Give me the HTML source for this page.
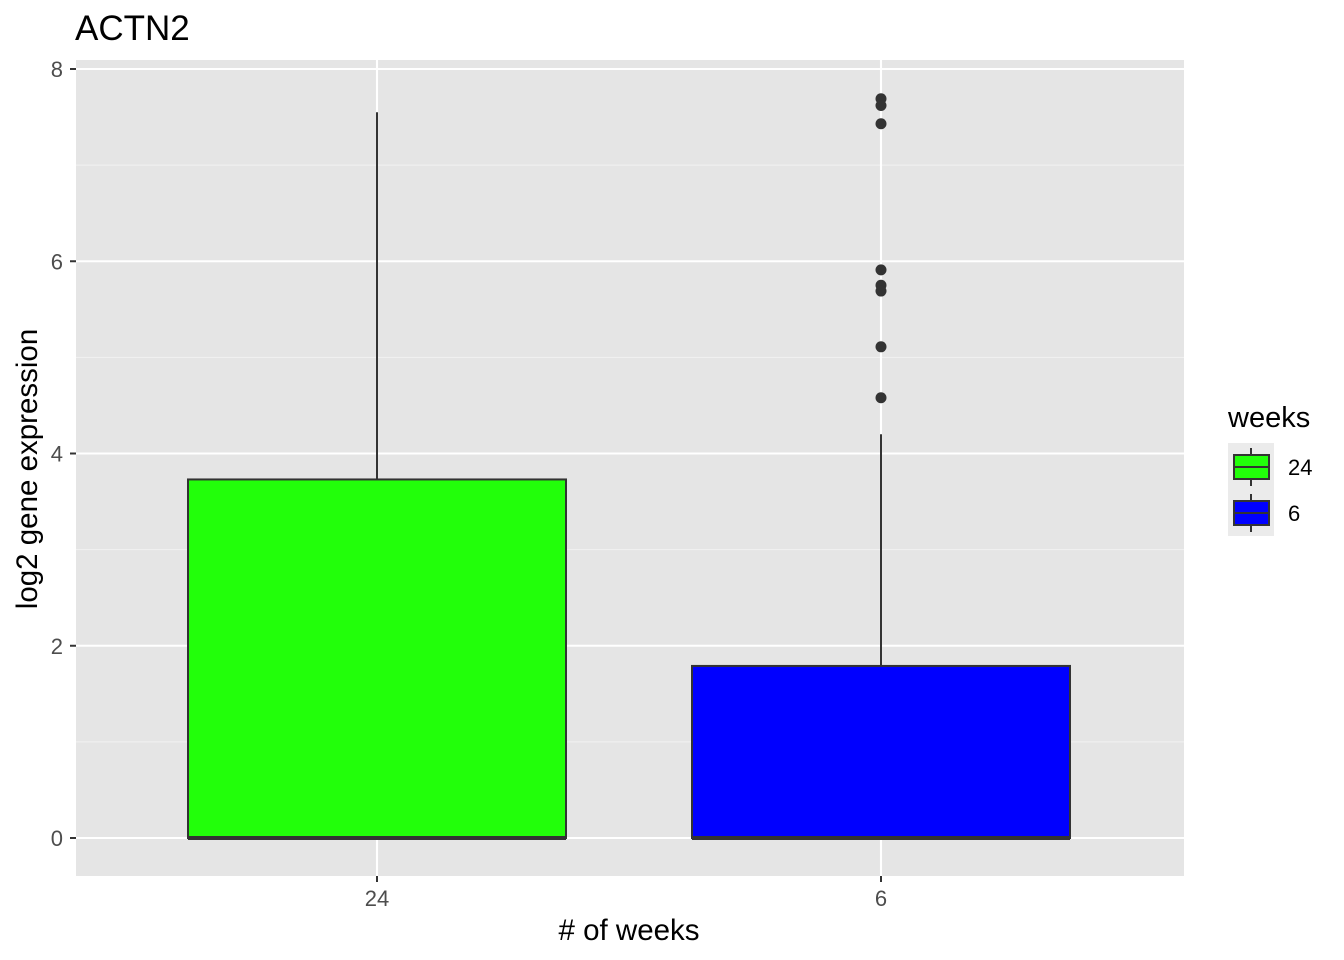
<!DOCTYPE html>
<html><head><meta charset="utf-8"><style>body{margin:0;background:#fff}svg{display:block;font-family:"Liberation Sans",Arial,sans-serif}</style></head>
<body>
<svg id="c" width="1344" height="960"></svg>
<script>
const categories=["24","6"];
const q1=[0,0];
const medians=[0,0];
const q3=[3.73,1.79];
const whiskLow=[0,0];
const whiskHigh=[7.55,4.2];
const colors=["#22ff0a","#0000ff"];
const outliers6=[7.69,7.62,7.43,5.91,5.75,5.69,5.11,4.58];
const yTicks=[0,2,4,6,8];
const NS="http://www.w3.org/2000/svg";
const svg=document.getElementById('c');
const L=76,R=1184,T=60,B=876;
const y=v=>838-v*96.125;
const xc=i=>377+i*504;
const bw=378;
function el(t,a,p){const e=document.createElementNS(NS,t);for(const k in a)e.setAttribute(k,a[k]);(p||svg).appendChild(e);return e;}
const bg=el('rect',{x:L,y:T,width:R-L,height:B-T,fill:'#e5e5e5'});


for(let v=1;v<8;v+=2)el('line',{x1:L,x2:R,y1:y(v),y2:y(v),stroke:'#f2f2f2','stroke-width':1.1});
yTicks.forEach(v=>{
 el('line',{x1:L,x2:R,y1:y(v),y2:y(v),stroke:'#fff','stroke-width':2.1});
 el('line',{x1:70,x2:L,y1:y(v),y2:y(v),stroke:'#333','stroke-width':2});
 const t=el('text',{x:63,y:y(v)+8,'text-anchor':'end','font-size':22,fill:'#4d4d4d'});t.textContent=v;
 
 
});
categories.forEach((c,i)=>{
 el('line',{x1:xc(i),x2:xc(i),y1:T,y2:B,stroke:'#fff','stroke-width':2.1});
 el('line',{x1:xc(i),x2:xc(i),y1:B,y2:B+6,stroke:'#333','stroke-width':2});
 const t=el('text',{x:xc(i),y:906,'text-anchor':'middle','font-size':22,fill:'#4d4d4d'});t.textContent=c;
 
 
});
categories.forEach((c,i)=>{
 const g=el('g',{});
 
 
 el('line',{x1:xc(i),x2:xc(i),y1:y(whiskHigh[i]),y2:y(q3[i]),stroke:'#333','stroke-width':2},g);
 el('line',{x1:xc(i),x2:xc(i),y1:y(q1[i]),y2:y(whiskLow[i]),stroke:'#333','stroke-width':2},g);
 el('rect',{x:xc(i)-bw/2,y:y(q3[i]),width:bw,height:y(q1[i])-y(q3[i]),fill:colors[i],stroke:'#333','stroke-width':2},g);
 el('line',{x1:xc(i)-bw/2,x2:xc(i)+bw/2,y1:y(medians[i]),y2:y(medians[i]),stroke:'#333','stroke-width':4},g);
});
outliers6.forEach(v=>{const p=el('circle',{cx:xc(1),cy:y(v),r:5.5,fill:'#333'});
 
 });
let t=el('text',{x:75,y:40,'font-size':35,fill:'#000'});t.textContent='ACTN2';

t=el('text',{x:629,y:940,'text-anchor':'middle','font-size':29.5,fill:'#000'});t.textContent='# of weeks';

t=el('text',{x:0,y:0,'text-anchor':'middle','font-size':29.5,fill:'#000',transform:'translate(37,469) rotate(-90)'});t.textContent='log2 gene expression';

t=el('text',{x:1228,y:427,'font-size':29,fill:'#000'});t.textContent='weeks';

el('rect',{x:1228,y:443,width:46,height:93,fill:'#ebebeb'});
categories.forEach((c,i)=>{
 const g=el('g',{});
 
 
 const cy=467+i*46;
 el('line',{x1:1251,x2:1251,y1:cy-19,y2:cy+19,stroke:'#333','stroke-width':2},g);
 el('rect',{x:1234,y:cy-12,width:35,height:24,fill:colors[i],stroke:'#333','stroke-width':2},g);
 el('line',{x1:1234,x2:1269,y1:cy,y2:cy,stroke:'#333','stroke-width':2},g);
 const tt=el('text',{x:1288,y:cy+8,'font-size':22,fill:'#000'},g);tt.textContent=c;
});
</script>
</body></html>
